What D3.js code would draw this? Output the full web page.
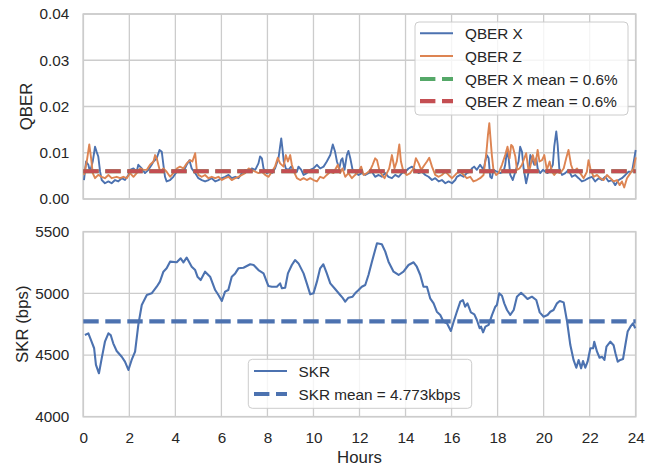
<!DOCTYPE html>
<html>
<head>
<meta charset="utf-8">
<script src="https://cdn.jsdelivr.net/npm/d3@7/dist/d3.min.js"></script>
<style>
  html, body { margin: 0; padding: 0; background: #ffffff; }
  svg { display: block; font-family: "Liberation Sans", Arial, sans-serif; }
</style>
</head>
<body>
<svg id="chart" width="645" height="467"></svg>
<script>
// ---------------- data ----------------
const hourTicks = [0, 2, 4, 6, 8, 10, 12, 14, 16, 18, 20, 22, 24];
const qberTicks = [0, 0.01, 0.02, 0.03, 0.04];
const skrTicks = [4000, 4500, 5000, 5500];

const qberXMean = 0.006;
const qberZMean = 0.006;
const skrMean = 4773;

// [hour, QBER]
const qberX = [[0.03,.0041],[0.12,.0081],[0.22,.0074],[0.29,.0059],[0.41,.0081],[0.51,.0113],[0.58,.0102],[0.65,.0092],[0.73,.0059],[0.80,.0041],[0.94,.0034],[1.09,.0038],[1.23,.0034],[1.38,.0041],[1.52,.0038],[1.67,.0045],[1.81,.0041],[1.96,.0052],[2.03,.0063],[2.18,.0066],[2.32,.0059],[2.39,.0074],[2.54,.0066],[2.68,.0056],[2.83,.0063],[2.97,.0074],[3.05,.0081],[3.19,.0088],[3.31,.0106],[3.41,.0102],[3.48,.0074],[3.55,.0048],[3.62,.0038],[3.77,.0041],[3.91,.0048],[4.06,.0059],[4.20,.0063],[4.35,.0059],[4.49,.0074],[4.61,.0084],[4.71,.0066],[4.86,.0056],[5.00,.0045],[5.15,.0041],[5.29,.0038],[5.44,.0041],[5.58,.0045],[5.73,.0038],[5.87,.0041],[6.02,.0045],[6.16,.0048],[6.31,.0052],[6.45,.0045],[6.60,.0048],[6.74,.0045],[6.89,.0056],[7.03,.0063],[7.18,.0059],[7.32,.0066],[7.47,.0063],[7.61,.0077],[7.68,.0092],[7.76,.0088],[7.83,.0066],[7.97,.0056],[8.12,.0059],
[8.19,.0056],[8.33,.0066],[8.48,.0088],[8.55,.0113],[8.60,.0131],[8.65,.0110],[8.71,.0081],[8.80,.0066],[8.91,.0063],[9.03,.0070],[9.13,.0063],[9.28,.0059],[9.35,.0070],[9.47,.0063],[9.57,.0052],[9.71,.0056],[9.86,.0063],[10.00,.0066],[10.15,.0074],[10.29,.0066],[10.44,.0070],[10.58,.0081],[10.73,.0095],[10.84,.0118],[10.94,.0102],[11.02,.0081],[11.12,.0066],[11.20,.0084],[11.26,.0088],[11.35,.0063],[11.45,.0095],[11.52,.0104],[11.60,.0088],[11.70,.0063],[11.84,.0056],[11.96,.0052],[12.10,.0056],[12.25,.0052],[12.39,.0056],[12.54,.0059],[12.68,.0048],[12.83,.0052],[12.97,.0048],[13.12,.0056],[13.26,.0048],[13.41,.0045],[13.55,.0052],[13.70,.0048],[13.84,.0056],[13.99,.0059],[14.13,.0066],[14.28,.0070],[14.42,.0063],[14.57,.0056],[14.71,.0059],[14.86,.0052],[15.00,.0048],[15.15,.0041],[15.29,.0045],[15.44,.0038],[15.58,.0041],[15.73,.0034],[15.87,.0038],[16.02,.0034],[16.16,.0041],
[16.23,.0048],[16.38,.0052],[16.52,.0048],[16.66,.0056],[16.81,.0059],[16.88,.0066],[16.98,.0070],[17.10,.0063],[17.24,.0074],[17.39,.0063],[17.46,.0081],[17.53,.0095],[17.61,.0088],[17.68,.0048],[17.75,.0045],[17.82,.0063],[17.97,.0059],[18.11,.0056],[18.26,.0059],[18.33,.0074],[18.40,.0102],[18.48,.0088],[18.55,.0052],[18.66,.0041],[18.77,.0059],[18.91,.0081],[18.98,.0113],[19.06,.0102],[19.13,.0066],[19.24,.0034],[19.35,.0059],[19.42,.0095],[19.49,.0088],[19.59,.0074],[19.68,.0088],[19.74,.0066],[19.85,.0056],[19.97,.0063],[20.07,.0059],[20.17,.0056],[20.29,.0063],[20.40,.0074],[20.46,.0113],[20.55,.0146],[20.61,.0117],[20.68,.0066],[20.80,.0052],[20.94,.0056],[21.08,.0063],[21.23,.0048],[21.37,.0052],[21.52,.0045],[21.66,.0038],[21.81,.0041],[21.95,.0045],[22.10,.0048],[22.24,.0038],[22.39,.0045],[22.53,.0041],[22.68,.0048],[22.82,.0038],[22.97,.0041],[23.11,.0030],[23.26,.0041],[23.40,.0045],[23.55,.0052],[23.69,.0059],[23.84,.0059],[23.94,.0088],[24.0,.0106]];

const qberZ = [[0.03,.0052],[0.15,.0081],[0.26,.0118],[0.34,.0088],[0.41,.0056],[0.51,.0045],[0.65,.0052],[0.80,.0048],[0.94,.0045],[1.09,.0052],[1.23,.0045],[1.45,.0048],[1.60,.0045],[1.74,.0048],[1.89,.0045],[2.03,.0056],[2.18,.0048],[2.32,.0056],[2.47,.0066],[2.61,.0063],[2.76,.0063],[2.90,.0074],[3.05,.0081],[3.12,.0095],[3.19,.0088],[3.26,.0074],[3.34,.0059],[3.48,.0066],[3.62,.0059],[3.77,.0048],[3.91,.0056],[4.06,.0066],[4.20,.0070],[4.35,.0066],[4.49,.0077],[4.64,.0084],[4.74,.0081],[4.86,.0099],[4.93,.0063],[5.00,.0052],[5.15,.0048],[5.29,.0052],[5.44,.0045],[5.58,.0048],[5.73,.0045],[5.87,.0048],[6.02,.0041],[6.16,.0045],[6.31,.0048],[6.45,.0041],[6.60,.0045],[6.74,.0048],[6.89,.0052],[7.03,.0056],[7.18,.0066],[7.32,.0063],[7.47,.0059],[7.61,.0056],[7.76,.0059],[7.90,.0052],[8.05,.0048],
[8.19,.0059],[8.33,.0070],[8.45,.0089],[8.55,.0077],[8.70,.0070],[8.80,.0095],[8.89,.0081],[8.99,.0095],[9.06,.0074],[9.18,.0056],[9.28,.0045],[9.42,.0041],[9.57,.0045],[9.71,.0041],[9.86,.0045],[10.00,.0041],[10.15,.0038],[10.29,.0048],[10.44,.0045],[10.58,.0052],[10.73,.0059],[10.87,.0056],[10.97,.0066],[11.06,.0074],[11.16,.0056],[11.26,.0066],[11.38,.0048],[11.52,.0056],[11.67,.0045],[11.81,.0052],[11.96,.0059],[12.07,.0070],[12.18,.0052],[12.32,.0056],[12.47,.0063],[12.57,.0074],[12.68,.0088],[12.76,.0084],[12.86,.0063],[12.97,.0052],[13.09,.0045],[13.19,.0056],[13.29,.0066],[13.41,.0095],[13.52,.0066],[13.62,.0081],[13.73,.0118],[13.80,.0081],[13.91,.0059],[14.06,.0052],[14.20,.0056],[14.35,.0066],[14.45,.0088],[14.57,.0077],[14.68,.0063],[14.83,.0074],[14.93,.0081],[15.03,.0089],[15.15,.0070],[15.29,.0052],[15.44,.0048],[15.58,.0052],[15.73,.0059],[15.87,.0052],[16.02,.0045],[16.16,.0052],
[16.23,.0056],[16.38,.0059],[16.52,.0052],[16.66,.0045],[16.81,.0048],[16.95,.0038],[17.10,.0041],[17.24,.0045],[17.39,.0052],[17.51,.0099],[17.58,.0138],[17.64,.0164],[17.68,.0138],[17.75,.0095],[17.82,.0063],[17.94,.0052],[18.04,.0056],[18.19,.0074],[18.33,.0095],[18.43,.0113],[18.52,.0088],[18.59,.0117],[18.66,.0113],[18.77,.0092],[18.84,.0063],[18.95,.0066],[19.06,.0074],[19.16,.0088],[19.24,.0099],[19.35,.0059],[19.42,.0070],[19.53,.0095],[19.64,.0074],[19.74,.0106],[19.82,.0081],[19.93,.0084],[20.03,.0095],[20.14,.0063],[20.26,.0081],[20.36,.0059],[20.46,.0052],[20.58,.0059],[20.72,.0056],[20.87,.0066],[20.98,.0088],[21.08,.0106],[21.19,.0074],[21.30,.0059],[21.45,.0066],[21.59,.0056],[21.74,.0045],[21.88,.0059],[21.95,.0084],[22.03,.0066],[22.17,.0048],[22.32,.0052],[22.46,.0045],[22.61,.0041],[22.75,.0052],[22.90,.0045],[23.04,.0038],[23.19,.0041],[23.30,.0030],[23.40,.0038],[23.50,.0025],[23.62,.0045],[23.77,.0056],[23.91,.0066],[24.0,.0090]];

// [hour, SKR bps]
const skr = [[0.07,4662],[0.22,4676],[0.36,4608],[0.47,4555],[0.55,4420],[0.68,4352],[0.8,4473],[0.94,4608],[1.09,4676],[1.19,4662],[1.3,4595],[1.45,4533],[1.67,4486],[1.81,4446],[1.96,4379],[2.1,4460],[2.25,4527],[2.39,4744],[2.54,4906],[2.76,4987],[2.97,5000],[3.19,5054],[3.33,5095],[3.48,5176],[3.62,5203],[3.77,5257],[4.06,5252],[4.23,5284],[4.35,5252],[4.49,5290],[4.71,5216],[4.86,5189],[4.96,5135],[5.1,5108],[5.29,5176],[5.51,5135],[5.73,5027],[5.87,4987],[6.02,4938],[6.16,5014],[6.3,5027],[6.45,5135],[6.6,5162],[6.74,5203],[6.96,5208],[7.25,5236],[7.4,5230],[7.61,5189],[7.83,5162],[8.04,5060],[8.19,5054],[8.41,5054],[8.55,5081],[8.63,5041],[8.77,5046],[8.89,5162],[9.06,5230],[9.2,5270],[9.35,5243],[9.57,5162],[9.71,5081],[9.86,4992],[10.0,5000],[10.15,5095],[10.29,5203],[10.43,5236],[10.58,5162],[10.73,5081],[10.94,5035],[11.16,4987],[11.26,4965],[11.38,4933],[11.52,4965],[11.7,4973],[11.81,5000],[11.96,5027],[12.1,5054],[12.25,5068],[12.39,5149],[12.54,5257],[12.76,5406],[12.97,5398],[13.12,5338],[13.26,5257],[13.48,5176],[13.7,5149],[13.91,5176],[14.13,5230],[14.35,5252],[14.49,5216],[14.64,5149],[14.78,5054],[14.93,5054],[15.07,4960],[15.22,4919],[15.36,4851],[15.51,4825],[15.65,4770],[15.8,4757],[15.97,4695],[16.09,4770],[16.23,4851],[16.38,4933],[16.49,4946],[16.59,4892],[16.69,4919],[16.84,4846],[16.99,4830],[17.1,4784],[17.22,4717],[17.28,4730],[17.37,4684],[17.47,4730],[17.61,4744],[17.76,4825],[17.9,4892],[17.97,4906],[18.07,5000],[18.19,4981],[18.29,4919],[18.41,4865],[18.55,4825],[18.7,4865],[18.84,4973],[19.02,5005],[19.16,4981],[19.3,4954],[19.49,4973],[19.68,4946],[19.83,4846],[20.0,4811],[20.17,4825],[20.29,4851],[20.43,4865],[20.58,4919],[20.7,4938],[20.87,4927],[21.02,4770],[21.16,4581],[21.3,4460],[21.42,4397],[21.52,4460],[21.63,4392],[21.71,4452],[21.81,4397],[21.91,4446],[22.03,4555],[22.15,4555],[22.2,4608],[22.32,4527],[22.43,4478],[22.54,4486],[22.64,4460],[22.73,4568],[22.9,4608],[23.04,4579],[23.12,4514],[23.22,4446],[23.33,4460],[23.45,4468],[23.55,4581],[23.65,4690],[23.77,4730],[23.88,4757],[23.98,4717]];

const topLegend = ["QBER X", "QBER Z", "QBER X mean = 0.6%", "QBER Z mean = 0.6%"];
const bottomLegend = ["SKR", "SKR mean = 4.773kbps"];

// ---------------- styles ----------------
const C = { blue: "#4C72B0", orange: "#DD8452", green: "#55A868", red: "#C44E52", grid: "#cccccc", text: "#262626" };
const L = 83.3, R = 635.7;
const topPanel = { top: 14, bottom: 199 };
const botPanel = { top: 231.7, bottom: 416.7 };
const tickFont = 15.3, labelFont = 16.8, legendFont = 15.3;
const dash = "15.4,6.6";

const svg = d3.select("#chart");
svg.append("rect").attr("width", 645).attr("height", 467).attr("fill", "#fff");

const x = d3.scaleLinear().domain([0, 24]).range([L, R]);
const yTop = d3.scaleLinear().domain([0, 0.04]).range([topPanel.bottom, topPanel.top]);
const yBot = d3.scaleLinear().domain([4000, 5500]).range([botPanel.bottom, botPanel.top]);

function panel(y, yTicks, fmt, showX) {
  const g = svg.append("g");
  // grid
  g.append("g").selectAll("line").data(hourTicks).join("line")
    .attr("x1", d => x(d)).attr("x2", d => x(d))
    .attr("y1", y.range()[1]).attr("y2", y.range()[0])
    .attr("stroke", C.grid).attr("stroke-width", 1.3);
  g.append("g").selectAll("line").data(yTicks).join("line")
    .attr("x1", L).attr("x2", R)
    .attr("y1", d => y(d)).attr("y2", d => y(d))
    .attr("stroke", C.grid).attr("stroke-width", 1.3);
  // frame
  g.append("rect").attr("x", L).attr("y", y.range()[1])
    .attr("width", R - L).attr("height", y.range()[0] - y.range()[1])
    .attr("fill", "none").attr("stroke", C.grid).attr("stroke-width", 1.6);
  // y axis
  const ya = svg.append("g").attr("transform", `translate(${L},0)`)
    .call(d3.axisLeft(y).tickValues(yTicks).tickFormat(fmt).tickSize(0).tickPadding(14));
  ya.select(".domain").remove();
  ya.selectAll("text").attr("font-size", tickFont).attr("fill", C.text)
    .attr("font-family", "Liberation Sans, Arial, sans-serif");
  if (showX) {
    const xa = svg.append("g").attr("transform", `translate(0,${y.range()[0]})`)
      .call(d3.axisBottom(x).tickValues(hourTicks).tickFormat(d3.format("d")).tickSize(0).tickPadding(15.6));
    xa.select(".domain").remove();
    xa.selectAll("text").attr("font-size", tickFont).attr("fill", C.text)
      .attr("font-family", "Liberation Sans, Arial, sans-serif");
  }
}

panel(yTop, qberTicks, d3.format(".2f"), false);
panel(yBot, skrTicks, d3.format("d"), true);

// ---------------- top: QBER ----------------
const lineTop = d3.line().x(d => x(d[0])).y(d => yTop(d[1]));
svg.append("path").datum(qberX).attr("d", lineTop)
  .attr("fill", "none").attr("stroke", C.blue).attr("stroke-width", 1.9).attr("stroke-linejoin", "round");
svg.append("path").datum(qberZ).attr("d", lineTop)
  .attr("fill", "none").attr("stroke", C.orange).attr("stroke-width", 1.9).attr("stroke-linejoin", "round");
svg.append("line").attr("x1", x(0)).attr("x2", x(24))
  .attr("y1", yTop(qberXMean)).attr("y2", yTop(qberXMean))
  .attr("stroke", C.green).attr("stroke-width", 4.2).attr("stroke-dasharray", dash);
svg.append("line").attr("x1", x(0)).attr("x2", x(24))
  .attr("y1", yTop(qberZMean)).attr("y2", yTop(qberZMean))
  .attr("stroke", C.red).attr("stroke-width", 4.2).attr("stroke-dasharray", dash);

// ---------------- bottom: SKR ----------------
const lineBot = d3.line().x(d => x(d[0])).y(d => yBot(d[1]));
svg.append("path").datum(skr).attr("d", lineBot)
  .attr("fill", "none").attr("stroke", C.blue).attr("stroke-width", 2.1).attr("stroke-linejoin", "round");
svg.append("line").attr("x1", x(0)).attr("x2", x(24))
  .attr("y1", yBot(skrMean)).attr("y2", yBot(skrMean))
  .attr("stroke", C.blue).attr("stroke-width", 4.2).attr("stroke-dasharray", dash);

// ---------------- axis labels ----------------
svg.append("text").text("QBER")
  .attr("transform", `translate(31.5,${(topPanel.top + topPanel.bottom) / 2}) rotate(-90)`)
  .attr("text-anchor", "middle").attr("font-size", labelFont).attr("fill", C.text);
svg.append("text").text("SKR (bps)")
  .attr("transform", `translate(28.3,${(botPanel.top + botPanel.bottom) / 2}) rotate(-90)`)
  .attr("text-anchor", "middle").attr("font-size", labelFont).attr("fill", C.text);
svg.append("text").text("Hours")
  .attr("x", (L + R) / 2).attr("y", 463)
  .attr("text-anchor", "middle").attr("font-size", labelFont).attr("fill", C.text);

// ---------------- legends ----------------
function legend(box, items, rows, hx0, hx1, tx) {
  const g = svg.append("g");
  g.append("rect").attr("x", box.x).attr("y", box.y).attr("width", box.w).attr("height", box.h)
    .attr("rx", 4).attr("fill", "#fff").attr("fill-opacity", 0.8)
    .attr("stroke", C.grid).attr("stroke-width", 1);
  items.forEach((it, i) => {
    g.append("line").attr("x1", hx0).attr("x2", hx1).attr("y1", rows[i]).attr("y2", rows[i])
      .attr("stroke", it.color).attr("stroke-width", it.dashed ? 4.2 : 2)
      .attr("stroke-dasharray", it.dashed ? dash : null);
    g.append("text").text(it.label).attr("x", tx).attr("y", rows[i] + 5.5)
      .attr("font-size", legendFont).attr("fill", C.text);
  });
}

legend({ x: 415, y: 22, w: 213, h: 93 },
  [{ label: topLegend[0], color: C.blue, dashed: false },
   { label: topLegend[1], color: C.orange, dashed: false },
   { label: topLegend[2], color: C.green, dashed: true },
   { label: topLegend[3], color: C.red, dashed: true }],
  [33.3, 56, 79, 101.2], 420, 453, 465);

legend({ x: 248.3, y: 359.3, w: 223.4, h: 49 },
  [{ label: bottomLegend[0], color: C.blue, dashed: false },
   { label: bottomLegend[1], color: C.blue, dashed: true }],
  [371, 394], 254, 287, 298.5);
</script>
</body>
</html>
